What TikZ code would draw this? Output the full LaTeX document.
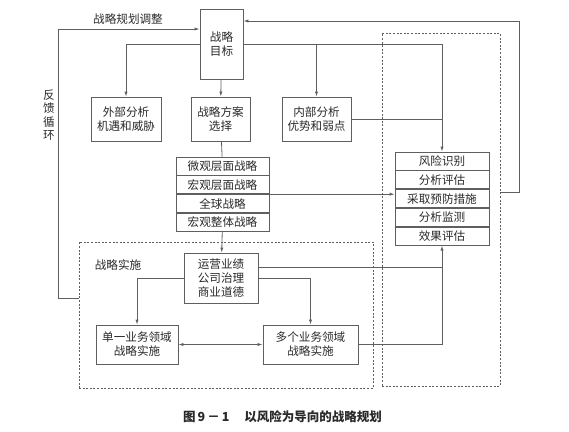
\documentclass[tikz,border=0pt]{standalone}
\usepackage{fontspec}
\setmainfont{Noto Sans CJK SC}
\usepackage{tikz}
\usetikzlibrary{arrows.meta,positioning,calc}
\definecolor{rkline}{HTML}{5F5F5F}
\definecolor{rktext}{HTML}{2A2A2A}

\begin{document}
\begin{tikzpicture}[x=1pt,y=-1pt,>={Latex[length=5pt,width=3.2pt]},node distance=0pt]
        \tikzset{box/.style={draw=rkline,thick,fill=white,align=center,inner sep=1pt,text=rktext,font=\fontsize{11.6}{14}\selectfont},
                 row/.style={box,minimum height=18pt},
                 zone/.style={draw=rkline,thick,dash pattern=on 2pt off 1.6pt,inner sep=0pt},
                 link/.style={draw=rkline,thick},
                 lbl/.style={text=rktext,font=\fontsize{11.6}{12.5}\selectfont,align=center}}
        \useasboundingbox (0,0) rectangle (569,431);
        % dashed zones
        \node[zone,minimum width=118pt,minimum height=353pt] (riskzone) at (441,209.5) {};
        \node[zone,minimum width=294pt,minimum height=146pt] (implzone) at (226,315) {};
        % planning part
        \node[box,minimum width=43pt,minimum height=70pt] (goal) at (221.5,44) {战略\\目标};
        \node[box,minimum width=70pt,minimum height=44pt] (ext) at (126,119) {外部分析\\机遇和威胁};
        \node[box,minimum width=59pt,minimum height=44pt] (choice) at (220.5,119) {战略方案\\选择};
        \node[box,minimum width=69pt,minimum height=44pt] (inner) at (316.5,119) {内部分析\\优势和弱点};
        \node[row,minimum width=93pt] (s1) at (222.5,166) {微观层面战略};
        \node[row,minimum width=93pt,below=of s1] (s2) {宏观层面战略};
        \node[row,minimum width=93pt,below=of s2] (s3) {全球战略};
        \node[row,minimum width=93pt,below=of s3] (s4) {宏观整体战略};
        % risk part
        \node[row,minimum width=94pt] (r1) at (442,161) {风险识别};
        \node[row,minimum width=94pt,below=of r1] (r2) {分析评估};
        \node[row,minimum width=94pt,below=of r2] (r3) {采取预防措施};
        \node[row,minimum width=94pt,below=of r3] (r4) {分析监测};
        \node[row,minimum width=94pt,below=of r4] (r5) {效果评估};
        % implementation part
        \node[box,minimum width=74pt,minimum height=50pt] (ops) at (221,278) {运营业绩\\公司治理\\商业道德};
        \node[box,minimum width=82pt,minimum height=39pt] (single) at (137,344.5) {单一业务领域\\战略实施};
        \node[box,minimum width=95pt,minimum height=39pt] (multi) at (310.5,344.5) {多个业务领域\\战略实施};
        % labels
        \node[lbl] (adjlbl) at (128,19) {战略规划调整};
        \node[lbl,font=\fontsize{11.6}{13.3}\selectfont] (fblbl) at (49,115) {反\\馈\\循\\环};
        \node[lbl] (impllbl) at (118,265) {战略实施};
        \node[lbl,font=\fontsize{12.5}{14}\selectfont\bfseries] (caption) at (282.5,417) {图\,9\,－\,1\hspace{1.2em}以风险为导向的战略规划};
        \coordinate (fb) at (58,298);
        \coordinate (adj) at (519,192);
        % connectors
        \draw[link,->] (goal) -- (choice);
        \draw[link,->] (goal.west) -| (ext.north);
        \draw[link,->] (goal.east) -| (r1.north);
        \draw[link,->] (inner.north |- goal.east) -- (inner.north);
        \draw[link] (inner.east) -- (inner.east -| r1.north);
        \draw[link] (choice) -- (s1);
        \draw[link,->] (s2.south east) -- (s2.south east -| r3.west);
        \draw[link,->] (s4) -- (ops);
        \draw[link,->] (ops.west) -| (single.north);
        \draw[link,->] (ops.east) -| (multi.north);
        \draw[link] ([yshift=11pt]ops.east) -- ([yshift=11pt]ops.east -| r5.south);
        \draw[link,<->] (single) -- (multi);
        \draw[link,->] (multi.east) -| (r5.south);
        \draw[link,->] (implzone.west |- fb) -- (fb) |- ([yshift=15pt]goal.west);
        \draw[link,->] (riskzone.east |- adj) -- (adj) |- ([yshift=23pt]goal.east);
      \end{tikzpicture}
\end{document}
